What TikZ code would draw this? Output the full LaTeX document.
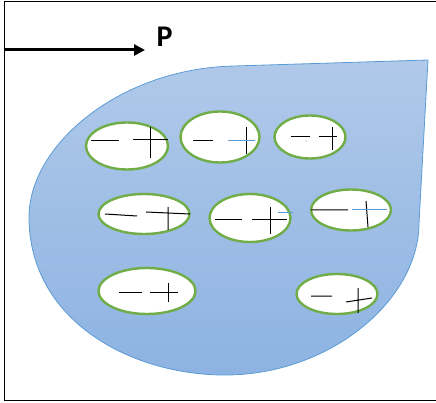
\documentclass[tikz,border=0pt]{standalone}
\usepackage{fontspec}
\setsansfont{Carlito}
\usepackage{xcolor}
\definecolor{dropblue}{RGB}{91, 155, 213}
\definecolor{droptop}{RGB}{176, 201, 233}
\definecolor{dropbottom}{RGB}{141, 179, 226}
\definecolor{cellgreen}{RGB}{112, 173, 71}
\definecolor{signblue}{RGB}{91, 155, 213}
\usetikzlibrary{arrows.meta, positioning, shapes.geometric}

\tikzset{
  cell/.style={ellipse, draw=cellgreen, line width=2.4pt, fill=white, inner sep=0pt},
  sign/.style={black, line width=1pt},
  bluesign/.style={signblue, line width=1pt}
}

\begin{document}
\begin{tikzpicture}[x=1pt, y=-1pt]
  \useasboundingbox (0,0) rectangle (436,403);
  % Frame
  \draw[black, line width=1pt] (4,1.5) rectangle (438,400);
  % Drop
  \draw[dropblue, line width=0.8pt, top color=droptop, bottom color=dropbottom]
    (428,60) -- (235,66)
    .. controls (120,68) and (29,145) .. (29,217)
    .. controls (29,320) and (130,375) .. (225,375)
    .. controls (330,375) and (419,300) .. (419,223)
    -- cycle;
  % Force arrow
  \coordinate (pstart) at (4,50);
  \coordinate (ptip) at (145,50);
  \draw[-{Triangle[length=11pt, width=11pt]}, line width=3pt] (pstart) -- (ptip);
  \node[font=\sffamily\bfseries\fontsize{30}{30}\selectfont, anchor=west] (P) at (153,37) {P};
  % Cells
  \node[cell, minimum width=82, minimum height=47] (e1) at (127,146) {};
  \node[cell, minimum width=79, minimum height=51] (e2) at (220,137) {};
  \node[cell, minimum width=71, minimum height=43] (e3) at (310,137) {};
  \node[cell, minimum width=91, minimum height=40] (e4) at (144,214) {};
  \node[cell, minimum width=81, minimum height=48] (e5) at (250,218) {};
  \node[cell, minimum width=80, minimum height=41] (e6) at (351,210) {};
  \node[cell, minimum width=97, minimum height=46] (e7) at (147,291) {};
  \node[cell, minimum width=81, minimum height=40] (e8) at (337,294) {};
  % Charges
  \draw[sign] (91,141) -- (119,141) (133,140) -- (168,140) (150,127) -- (150,158);
  \draw[sign] (193,141) -- (213,141) (246,127) -- (246,154);
  \draw[bluesign] (228,141) -- (255,141);
  \draw[sign] (291,137) -- (310,137) (319,137) -- (337,137) (332,127) -- (332,150);
  \fill[signblue] (306,141) circle (0.6pt);
  \draw[sign] (105,214) -- (137,216) (146,212) -- (190,214) (168,207) -- (168,230);
  \draw[sign] (215,220) -- (242,220) (252,220) -- (287,220) (270,207) -- (270,234);
  \draw[bluesign] (278,213) -- (293,213);
  \draw[sign] (311,210) -- (348,210) (366,201) -- (368,227);
  \draw[bluesign] (352,210) -- (387,210);
  \draw[sign] (119,292) -- (142,292) (150,292) -- (178,292) (168,283) -- (168,302);
  \draw[sign] (311,296) -- (332,296) (346,302) -- (372,298) (358,288) -- (358,313);
\end{tikzpicture}
\end{document}
